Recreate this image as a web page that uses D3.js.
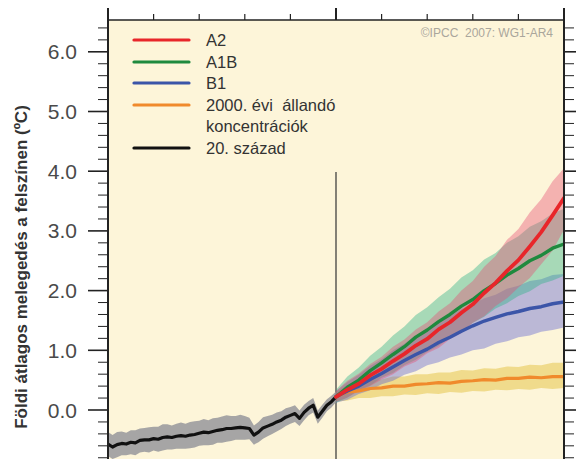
<!DOCTYPE html>
<html>
<head>
<meta charset="utf-8">
<script src="https://cdn.jsdelivr.net/npm/d3@7"></script>
<style>
  html, body { margin: 0; padding: 0; background: #ffffff; }
  svg { display: block; font-family: "Liberation Sans", Arial, Helvetica, sans-serif; }
</style>
</head>
<body>
<svg id="chart" width="576" height="459"></svg>
<script>
// ---------- DATA ----------
const histYears = d3.range(1900, 2001, 2);
const histMean = [-0.57,-0.62,-0.58,-0.56,-0.57,-0.54,-0.55,-0.51,-0.50,-0.50,
  -0.48,-0.49,-0.46,-0.45,-0.46,-0.44,-0.43,-0.44,-0.42,-0.41,
  -0.39,-0.37,-0.38,-0.36,-0.34,-0.33,-0.31,-0.31,-0.30,-0.29,
  -0.30,-0.31,-0.42,-0.37,-0.30,-0.27,-0.24,-0.20,-0.17,-0.12,
  -0.09,-0.06,-0.14,-0.04,0.03,0.08,-0.12,-0.02,0.08,0.14,0.22];
const histSpread = [0.20,0.20,0.21,0.20,0.19,0.20,0.21,0.20,0.20,0.21,
  0.20,0.21,0.22,0.21,0.20,0.21,0.22,0.21,0.22,0.22,
  0.21,0.22,0.21,0.22,0.21,0.22,0.22,0.21,0.20,0.21,
  0.20,0.18,0.16,0.17,0.18,0.17,0.16,0.16,0.15,0.15,
  0.14,0.14,0.13,0.13,0.12,0.12,0.11,0.11,0.10,0.10,0.09];

const futYears = d3.range(2000, 2101, 5);
const a2Mean  = [0.22,0.34,0.44,0.58,0.69,0.82,0.94,1.08,1.19,1.35,1.47,1.63,1.77,1.96,2.13,2.33,2.51,2.74,2.98,3.26,3.55];
const a2Low   = [0.14,0.21,0.32,0.40,0.51,0.60,0.73,0.81,0.95,1.04,1.19,1.29,1.46,1.57,1.74,1.87,2.05,2.21,2.44,2.67,3.02];
const a2High  = [0.32,0.49,0.61,0.77,0.89,1.06,1.18,1.35,1.47,1.65,1.79,2.00,2.16,2.40,2.58,2.85,3.03,3.31,3.53,3.83,4.05];
const a1bMean = [0.22,0.38,0.50,0.66,0.79,0.93,1.06,1.22,1.34,1.48,1.60,1.74,1.85,2.00,2.12,2.26,2.37,2.50,2.59,2.71,2.78];
const a1bLow  = [0.12,0.21,0.33,0.41,0.54,0.62,0.75,0.84,0.97,1.07,1.21,1.31,1.46,1.56,1.70,1.79,1.91,1.99,2.11,2.17,2.25];
const a1bHigh = [0.34,0.56,0.71,0.91,1.06,1.25,1.40,1.59,1.72,1.89,2.03,2.22,2.34,2.52,2.63,2.80,2.91,3.07,3.16,3.29,3.37];
const b1Mean  = [0.22,0.32,0.40,0.51,0.61,0.72,0.83,0.93,1.02,1.13,1.22,1.32,1.41,1.49,1.55,1.61,1.65,1.70,1.73,1.78,1.81];
const b1Low   = [0.12,0.17,0.27,0.33,0.43,0.49,0.59,0.65,0.75,0.80,0.88,0.93,1.00,1.03,1.11,1.15,1.22,1.25,1.31,1.34,1.38];
const b1High  = [0.32,0.47,0.59,0.74,0.85,1.00,1.11,1.25,1.35,1.48,1.57,1.69,1.77,1.87,1.93,2.03,2.08,2.16,2.19,2.26,2.28];
const constMean = [0.22,0.30,0.32,0.36,0.37,0.40,0.40,0.43,0.44,0.46,0.45,0.48,0.49,0.51,0.50,0.53,0.53,0.55,0.54,0.56,0.56];
const constLow  = [0.14,0.16,0.20,0.20,0.23,0.23,0.26,0.25,0.28,0.27,0.30,0.29,0.32,0.31,0.34,0.33,0.35,0.34,0.37,0.35,0.37];
const constHigh = [0.30,0.42,0.45,0.50,0.51,0.56,0.56,0.60,0.60,0.63,0.63,0.67,0.66,0.70,0.69,0.73,0.72,0.76,0.75,0.79,0.79];

const yTickLabels = ["0.0","1.0","2.0","3.0","4.0","5.0","6.0"];
const legendLabels = ["A2","A1B","B1","2000. évi  állandó|koncentrációk","20. század"];
const yAxisTitle = "Földi átlagos melegedés a felszínen (ºC)";
const copyright = "©IPCC  2007: WG1-AR4";

// ---------- LAYOUT ----------
const svg = d3.select("#chart");
const L = 108, R = 564, T = 20, B = 459;
const x = d3.scaleLinear().domain([1900, 2100]).range([L, R]);
const y = d3.scaleLinear().domain([0, 6]).range([410, 51.8]);

svg.append("rect").attr("x", L).attr("y", T).attr("width", R - L).attr("height", B - T)
  .attr("fill", "#fdf5d9");

svg.append("clipPath").attr("id", "clip").append("rect")
  .attr("x", L).attr("y", T).attr("width", R - L).attr("height", B - T);
const plot = svg.append("g").attr("clip-path", "url(#clip)");

// vertical line at 2000
plot.append("line").attr("x1", x(2000)).attr("x2", x(2000))
  .attr("y1", 172).attr("y2", B).attr("stroke", "#333").attr("stroke-width", 1.2);

function band(years, lo, hi, fill, op) {
  const data = years.map((yr, i) => [yr, lo[i], hi[i]]);
  plot.append("path").datum(data)
    .attr("d", d3.area().x(d => x(d[0])).y0(d => y(d[1])).y1(d => y(d[2])))
    .attr("fill", fill).attr("fill-opacity", op);
}
function line(years, vals, color, w) {
  const data = years.map((yr, i) => [yr, vals[i]]);
  plot.append("path").datum(data)
    .attr("d", d3.line().x(d => x(d[0])).y(d => y(d[1])))
    .attr("fill", "none").attr("stroke", color).attr("stroke-width", w)
    .attr("stroke-linejoin", "round").attr("stroke-linecap", "round");
}

// historical band
band(histYears, histMean.map((v, i) => v - histSpread[i]), histMean.map((v, i) => v + histSpread[i]), "rgb(150,150,155)", 0.85);
line(histYears, histMean, "#111", 3.2);

// future bands
band(futYears, constLow, constHigh, "rgb(224,189,47)", 0.45);
band(futYears, b1Low, b1High, "rgb(95,100,210)", 0.42);
band(futYears, a1bLow, a1bHigh, "rgb(47,178,136)", 0.42);
band(futYears, a2Low, a2High, "rgb(229,78,115)", 0.40);

line(futYears, constMean, "#f08a2c", 3.2);
line(futYears, b1Mean, "#3b55a8", 3.4);
line(futYears, a1bMean, "#1f8a3e", 3.4);
line(futYears, a2Mean, "#e8262a", 3.8);

// ---------- AXES ----------
const axisColor = "#222";
svg.append("line").attr("x1", L).attr("x2", R).attr("y1", T).attr("y2", T).attr("stroke", axisColor).attr("stroke-width", 1.5);
svg.append("line").attr("x1", L).attr("x2", L).attr("y1", 8).attr("y2", B).attr("stroke", axisColor).attr("stroke-width", 2);
svg.append("line").attr("x1", R).attr("x2", R).attr("y1", 8).attr("y2", B).attr("stroke", axisColor).attr("stroke-width", 2);

const topTicks = d3.range(1900, 2101, 20);
svg.selectAll(".tt").data(topTicks).enter().append("line")
  .attr("x1", d => x(d)).attr("x2", d => x(d))
  .attr("y1", d => (d % 100 === 0 ? 8 : 14)).attr("y2", T)
  .attr("stroke", axisColor).attr("stroke-width", d => (d % 100 === 0 ? 2 : 1.2));

const yTicks = d3.range(-4, 33).map(k => k / 5);
const isMajor = d => Math.abs(d - Math.round(d)) < 1e-6;
svg.selectAll(".ytl").data(yTicks).enter().append("line")
  .attr("x1", d => (isMajor(d) ? L - 20 : L - 10)).attr("x2", L)
  .attr("y1", d => y(d)).attr("y2", d => y(d))
  .attr("stroke", axisColor).attr("stroke-width", d => (isMajor(d) ? 1.6 : 1));
svg.selectAll(".ytr").data(yTicks).enter().append("line")
  .attr("x1", R).attr("x2", d => (isMajor(d) ? R + 14 : R + 10))
  .attr("y1", d => y(d)).attr("y2", d => y(d))
  .attr("stroke", axisColor).attr("stroke-width", d => (isMajor(d) ? 1.6 : 1));

svg.selectAll(".ylab").data(yTickLabels).enter().append("text")
  .attr("x", 77).attr("y", d => y(+d)).attr("dy", "0.36em")
  .attr("text-anchor", "end").attr("font-size", 21).attr("fill", "#4a4a4a")
  .text(d => d);

svg.append("text").attr("transform", "translate(21,267) rotate(-90)")
  .attr("text-anchor", "middle").attr("dy", "0.36em")
  .attr("font-size", 17).attr("font-weight", "bold").attr("fill", "#333")
  .text(yAxisTitle);

svg.append("text").attr("x", 553).attr("y", 37).attr("text-anchor", "end")
  .attr("font-size", 12).attr("fill", "#aaa69c")
  .attr("xml:space", "preserve").style("white-space", "pre").text(copyright);

// ---------- LEGEND ----------
const legendColors = ["#e8262a", "#1f8a3e", "#3b55a8", "#f08a2c", "#111"];
const legendY = [40, 62, 83, 105, 148];
const lg = svg.append("g");
legendLabels.forEach((lab, i) => {
  lg.append("line").attr("x1", 134).attr("x2", 189).attr("y1", legendY[i]).attr("y2", legendY[i])
    .attr("stroke", legendColors[i]).attr("stroke-width", 3.2).attr("stroke-linecap", "round");
  lab.split("|").forEach((p, j) => {
    lg.append("text").attr("x", 206).attr("y", legendY[i] + j * 21.5).attr("dy", "0.36em")
      .attr("font-size", 16.5).attr("fill", "#333").attr("xml:space", "preserve")
      .style("white-space", "pre").text(p);
  });
});
</script>
</body>
</html>
